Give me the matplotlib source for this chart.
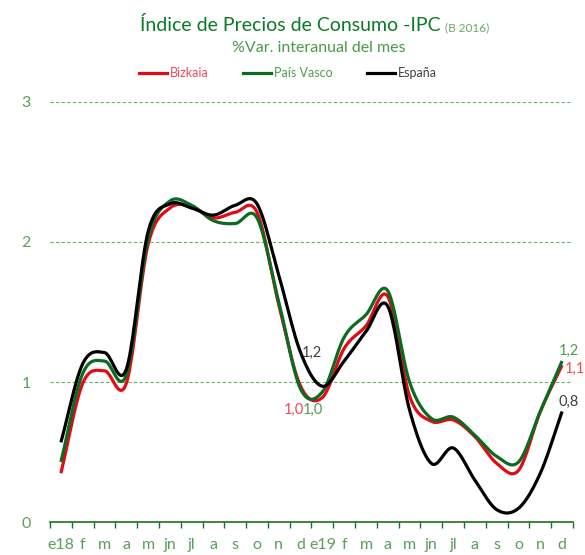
import numpy as np
import matplotlib
matplotlib.use("Agg")
import matplotlib.pyplot as plt
from matplotlib.lines import Line2D

plt.rcParams['font.family'] = ['Lato', 'DejaVu Sans']

months = ["e18", "f", "m", "a", "m", "jn", "jl", "a", "s", "o", "n", "d",
          "e19", "f", "m", "a", "m", "jn", "jl", "a", "s", "o", "n", "d"]
bizkaia = [0.35, 0.99, 1.08, 0.99, 1.98, 2.24, 2.25, 2.17, 2.21, 2.21, 1.55, 0.97,
           0.89, 1.24, 1.40, 1.61, 0.90, 0.72, 0.73, 0.61, 0.42, 0.37, 0.79, 1.12]
pais_vasco = [0.43, 1.06, 1.15, 1.05, 2.02, 2.29, 2.26, 2.15, 2.13, 2.17, 1.57, 0.95,
              0.93, 1.32, 1.48, 1.65, 1.00, 0.74, 0.75, 0.62, 0.47, 0.43, 0.79, 1.15]
espana = [0.57, 1.13, 1.21, 1.09, 2.07, 2.27, 2.24, 2.19, 2.26, 2.27, 1.76, 1.21,
          0.97, 1.15, 1.36, 1.54, 0.80, 0.42, 0.53, 0.30, 0.09, 0.10, 0.35, 0.79]
series_names = ["Bizkaia", "País Vasco", "España"]

RED = "#e20a16"
GREEN = "#0b6b1f"
BLACK = "#000000"
RED_TXT = "#ee4a55"
GREEN_TXT = "#4e9c4e"
GRAY_TXT = "#404040"
TICK_TXT = "#5a9e5a"
AXIS_GREEN = "#1f6e26"


def smooth(y, n=20):
    """Catmull-Rom rendering of a line through the given points (Excel-like smoothing)."""
    y = np.asarray(y, float)
    x = np.arange(len(y), dtype=float)
    P = np.column_stack([x, y])
    P = np.vstack([P[0] - (P[1] - P[0]), P, P[-1] + (P[-1] - P[-2])])
    out = []
    t = np.linspace(0, 1, n, endpoint=False)[:, None]
    for i in range(1, len(P) - 2):
        p0, p1, p2, p3 = P[i - 1], P[i], P[i + 1], P[i + 2]
        c1 = p1 + (p2 - p0) / 6.0
        c2 = p2 - (p3 - p1) / 6.0
        seg = ((1 - t) ** 3) * p1 + 3 * ((1 - t) ** 2) * t * c1 + 3 * (1 - t) * t ** 2 * c2 + t ** 3 * p2
        out.append(seg)
    out.append(P[-2][None, :])
    out = np.vstack(out)
    return out[:, 0], out[:, 1]


fig = plt.figure(figsize=(5.85, 5.55), dpi=100)
ax = fig.add_axes([50 / 585, 32.7 / 555, 523 / 585, 420.8 / 555])

n = len(months)
ax.set_xlim(-0.5, n - 0.5)
ax.set_ylim(0, 3)

for yv in [1, 2, 3]:
    ax.axhline(yv, color="#6aaf6a", lw=0.8, ls=(0, (3, 2)), zorder=1)

for data, col in [(bizkaia, RED), (pais_vasco, GREEN), (espana, BLACK)]:
    xs, ys = smooth(data)
    ax.plot(xs, ys, color=col, lw=2.3, solid_capstyle="butt", zorder=3)

for s in ["top", "right", "left"]:
    ax.spines[s].set_visible(False)
ax.spines["bottom"].set_color(AXIS_GREEN)
ax.spines["bottom"].set_linewidth(1.2)

ax.set_xticks(np.arange(n))
ax.set_xticklabels(months)
ax.set_xticks(np.arange(-0.5, n, 1.0), minor=True)
ax.tick_params(axis="x", which="major", length=0, pad=11, labelsize=11.5, labelcolor=TICK_TXT)
ax.tick_params(axis="x", which="minor", length=4, width=1.0, color=AXIS_GREEN, direction="out")
ax.set_yticks([0, 1, 2, 3])
ax.set_yticklabels(["0", "1", "2", "3"])
ax.tick_params(axis="y", length=0, pad=14, labelsize=11.5, labelcolor=TICK_TXT)

# data labels
ax.text(10.69, 0.80, "1,0", color=RED_TXT, fontsize=10.5, ha="center", va="center")
ax.text(11.56, 0.80, "1,0", color=GREEN_TXT, fontsize=10.5, ha="center", va="center")
ax.text(11.51, 1.21, "1,2", color=GRAY_TXT, fontsize=10.5, ha="center", va="center")
ax.text(23.3, 1.22, "1,2", color=GREEN_TXT, fontsize=10.5, ha="center", va="center", clip_on=False)
ax.text(23.6, 1.095, "1,1", color=RED_TXT, fontsize=10.5, ha="center", va="center", clip_on=False)
ax.text(23.3, 0.86, "0,8", color=GRAY_TXT, fontsize=10.5, ha="center", va="center", clip_on=False)

# titles
fig.text(441 / 585, 1 - 31 / 555, "Índice de Precios de Consumo -IPC", color="#0b7a26",
         fontsize=14, ha="right", va="baseline")
fig.text(445 / 585, 1 - 31 / 555, "(B 2016)", color="#6aa86a", fontsize=8.5,
         ha="left", va="baseline")
fig.text(319 / 585, 1 - 52 / 555, "%Var. interanual del mes", color="#4a9a4a",
         fontsize=11.5, ha="center", va="baseline")

# legend
ly = 1 - 73 / 555
for (x0, name, lc, tc) in [(139, series_names[0], RED, RED_TXT),
                           (243, series_names[1], GREEN, GREEN_TXT),
                           (367, series_names[2], BLACK, GRAY_TXT)]:
    fig.add_artist(Line2D([x0 / 585, (x0 + 28) / 585], [ly, ly], color=lc, lw=2.3,
                          transform=fig.transFigure))
    fig.text((x0 + 31) / 585, ly, name, color=tc, fontsize=9, ha="left", va="center")

fig.savefig("out.png", dpi=100)
